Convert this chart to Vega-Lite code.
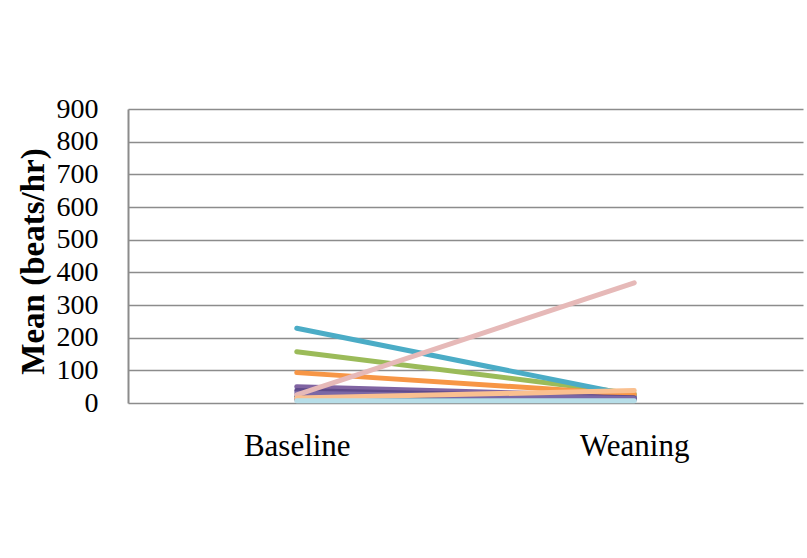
{
  "$schema": "https://vega.github.io/schema/vega-lite/v6.json",
  "width": 675,
  "height": 294,
  "autosize": "none",
  "padding": {"left": 128, "top": 109, "right": 4, "bottom": 155},
  "background": "white",
  "config": {
    "view": {"stroke": null},
    "font": "Liberation Serif, serif",
    "axis": {"labelFont": "Liberation Serif, serif", "titleFont": "Liberation Serif, serif"}
  },
  "data": {
    "values": [
      {"series": "S01", "phase": "Baseline", "value": 12},
      {"series": "S01", "phase": "Weaning", "value": 14},
      {"series": "S02", "phase": "Baseline", "value": 10},
      {"series": "S02", "phase": "Weaning", "value": 12},
      {"series": "S03", "phase": "Baseline", "value": 157},
      {"series": "S03", "phase": "Weaning", "value": 28},
      {"series": "S04", "phase": "Baseline", "value": 50},
      {"series": "S04", "phase": "Weaning", "value": 20},
      {"series": "S05", "phase": "Baseline", "value": 229},
      {"series": "S05", "phase": "Weaning", "value": 22},
      {"series": "S06", "phase": "Baseline", "value": 93},
      {"series": "S06", "phase": "Weaning", "value": 26},
      {"series": "S07", "phase": "Baseline", "value": 20},
      {"series": "S07", "phase": "Weaning", "value": 10},
      {"series": "S08", "phase": "Baseline", "value": 38},
      {"series": "S08", "phase": "Weaning", "value": 16},
      {"series": "S09", "phase": "Baseline", "value": 30},
      {"series": "S09", "phase": "Weaning", "value": 14},
      {"series": "S10", "phase": "Baseline", "value": 25},
      {"series": "S10", "phase": "Weaning", "value": 368},
      {"series": "S11", "phase": "Baseline", "value": 15},
      {"series": "S11", "phase": "Weaning", "value": 38},
      {"series": "S12", "phase": "Baseline", "value": 7},
      {"series": "S12", "phase": "Weaning", "value": 7}
    ]
  },
  "mark": {"type": "line", "strokeWidth": 5, "strokeCap": "round"},
  "encoding": {
    "x": {
      "field": "phase",
      "type": "nominal",
      "sort": ["Baseline", "Weaning"],
      "scale": {"type": "point", "padding": 0.5},
      "axis": {
        "title": null,
        "labelAngle": 0,
        "labelFontSize": 31,
        "labelColor": "black",
        "labelPadding": 28,
        "ticks": false,
        "domain": false,
        "grid": false
      }
    },
    "y": {
      "field": "value",
      "type": "quantitative",
      "scale": {"domain": [0, 900], "nice": false},
      "axis": {
        "values": [0, 100, 200, 300, 400, 500, 600, 700, 800, 900],
        "title": "Mean (beats/hr)",
        "titleFontSize": 33,
        "titleFontWeight": "bold",
        "titleColor": "black",
        "titleX": -95,
        "titleY": 152,
        "titleAngle": -90,
        "titleAlign": "center",
        "titleBaseline": "middle",
        "labelFontSize": 28,
        "labelColor": "black",
        "labelPadding": 30,
        "ticks": false,
        "domainColor": "#8c8c8c",
        "domainWidth": 2,
        "grid": true,
        "gridColor": "#8c8c8c",
        "gridWidth": 1.5,
        "gridOpacity": 1
      }
    },
    "color": {
      "field": "series",
      "type": "nominal",
      "scale": {
        "domain": ["S01", "S02", "S03", "S04", "S05", "S06", "S07", "S08", "S09", "S10", "S11", "S12"],
        "range": ["#4F81BD", "#C0504D", "#9BBB59", "#8064A2", "#4BACC6", "#F79646", "#2C4D75", "#5F4B8B", "#7B68A6", "#E6B9B8", "#FAC090", "#B7DEE8"]
      },
      "legend": null
    }
  }
}
